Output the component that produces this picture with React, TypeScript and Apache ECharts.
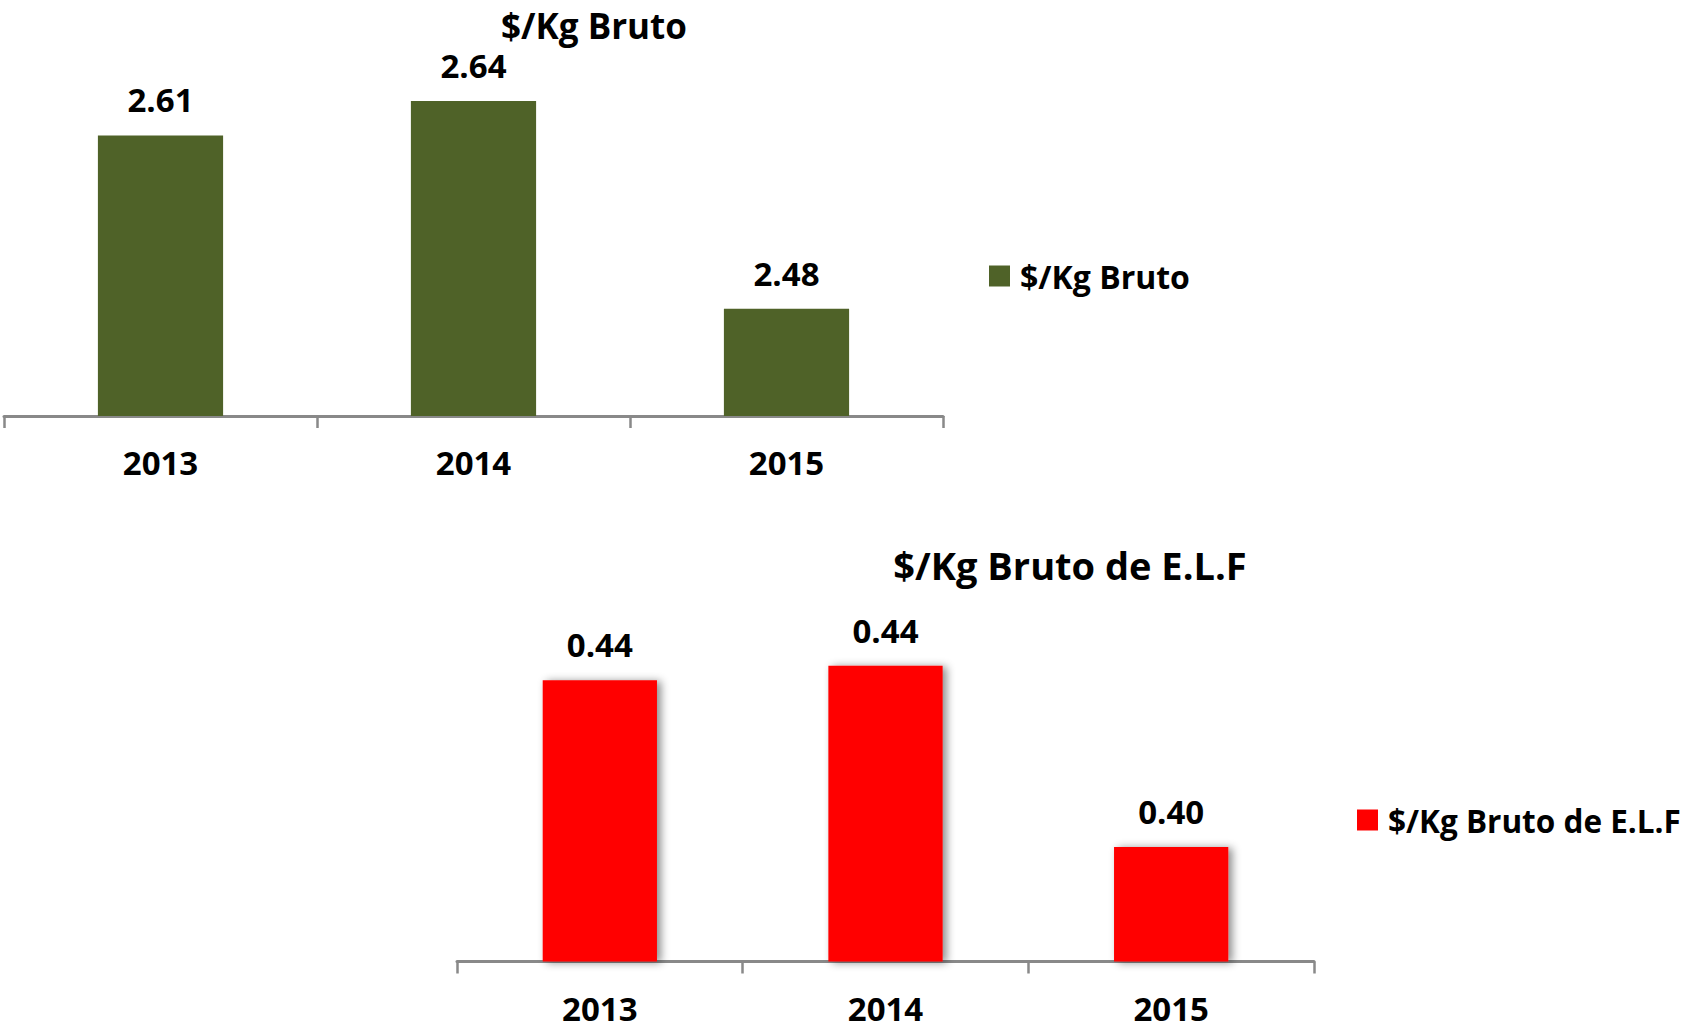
import React, { useEffect, useRef } from "react";
import * as echarts from "echarts";

const years = ["2013", "2014", "2015"];
const brutoName = "$/Kg Bruto";
const brutoValues = [2.612, 2.638, 2.481];
const brutoRange = [2.4, 2.7];
const elfName = "$/Kg Bruto de E.L.F";
const elfValues = [0.439, 0.442, 0.404];
const elfRange = [0.38, 0.46];

const FONT = '"Open Sans", "Noto Sans", sans-serif';
const AXIS_GRAY = "#898989";
const GREEN = "#4F6228";
const RED = "#FF0000";

function xAxisFor(gridIndex: number) {
  return {
    type: "category",
    gridIndex,
    data: years,
    axisLine: { onZero: false, lineStyle: { color: AXIS_GRAY, width: 3 } },
    axisTick: { show: true, length: 12, lineStyle: { color: AXIS_GRAY, width: 2.5 } },
    axisLabel: { margin: 30, fontSize: 33, fontWeight: "bold", color: "#000", fontFamily: FONT },
    splitLine: { show: false },
  };
}

export default function App() {
  const ref = useRef<HTMLDivElement>(null);
  useEffect(() => {
    if (!ref.current) return;
    const chart = echarts.init(ref.current, null, { renderer: "svg" });
    const labelStyle = {
      show: true,
      position: "top",
      distance: 19,
      fontSize: 33,
      fontWeight: "bold",
      color: "#000",
      fontFamily: FONT,
      formatter: (p: any) => Number(p.value).toFixed(2),
    };
    const legendText = { fontSize: 32, fontWeight: "bold", color: "#000", fontFamily: FONT, padding: [0, 0, 0, 5] };
    chart.setOption({
      animation: false,
      backgroundColor: "#fff",
      textStyle: { fontFamily: FONT },
      grid: [
        { left: 4, width: 939, top: 19, height: 397 },
        { left: 457, width: 857, top: 580, height: 381.5 },
      ],
      xAxis: [xAxisFor(0), xAxisFor(1)],
      yAxis: [
        { type: "value", gridIndex: 0, min: brutoRange[0], max: brutoRange[1], show: false },
        { type: "value", gridIndex: 1, min: elfRange[0], max: elfRange[1], show: false },
      ],
      legend: [
        {
          data: [brutoName],
          left: 984,
          top: 255,
          icon: "rect",
          itemWidth: 21,
          itemHeight: 21,
          selectedMode: false,
          textStyle: legendText,
        },
        {
          data: [elfName],
          left: 1352,
          top: 799,
          icon: "rect",
          itemWidth: 21,
          itemHeight: 21,
          selectedMode: false,
          textStyle: { ...legendText, fontSize: 31.5 },
        },
      ],
      graphic: [
        {
          type: "text",
          x: 594,
          y: 8,
          style: {
            text: brutoName,
            font: `bold 35px ${FONT}`,
            fill: "#000",
            textAlign: "center",
            textVerticalAlign: "top",
          },
        },
        {
          type: "text",
          x: 1070,
          y: 565,
          style: {
            text: elfName,
            font: `bold 38px ${FONT}`,
            fill: "#000",
            textAlign: "center",
            textVerticalAlign: "middle",
          },
        },
      ],
      series: [
        {
          name: brutoName,
          type: "bar",
          xAxisIndex: 0,
          yAxisIndex: 0,
          data: brutoValues,
          barWidth: "40%",
          itemStyle: { color: GREEN },
          label: labelStyle,
        },
        {
          name: elfName,
          type: "bar",
          xAxisIndex: 1,
          yAxisIndex: 1,
          data: elfValues,
          barWidth: "40%",
          itemStyle: {
            color: RED,
            shadowBlur: 8,
            shadowOffsetX: 4,
            shadowOffsetY: 1,
            shadowColor: "rgba(0,0,0,0.45)",
          },
          label: labelStyle,
        },
      ],
    });
    return () => chart.dispose();
  }, []);
  return (
    <div
      ref={ref}
      style={{ position: "fixed", left: 0, top: 0, width: 1686, height: 1029 }}
    />
  );
}
